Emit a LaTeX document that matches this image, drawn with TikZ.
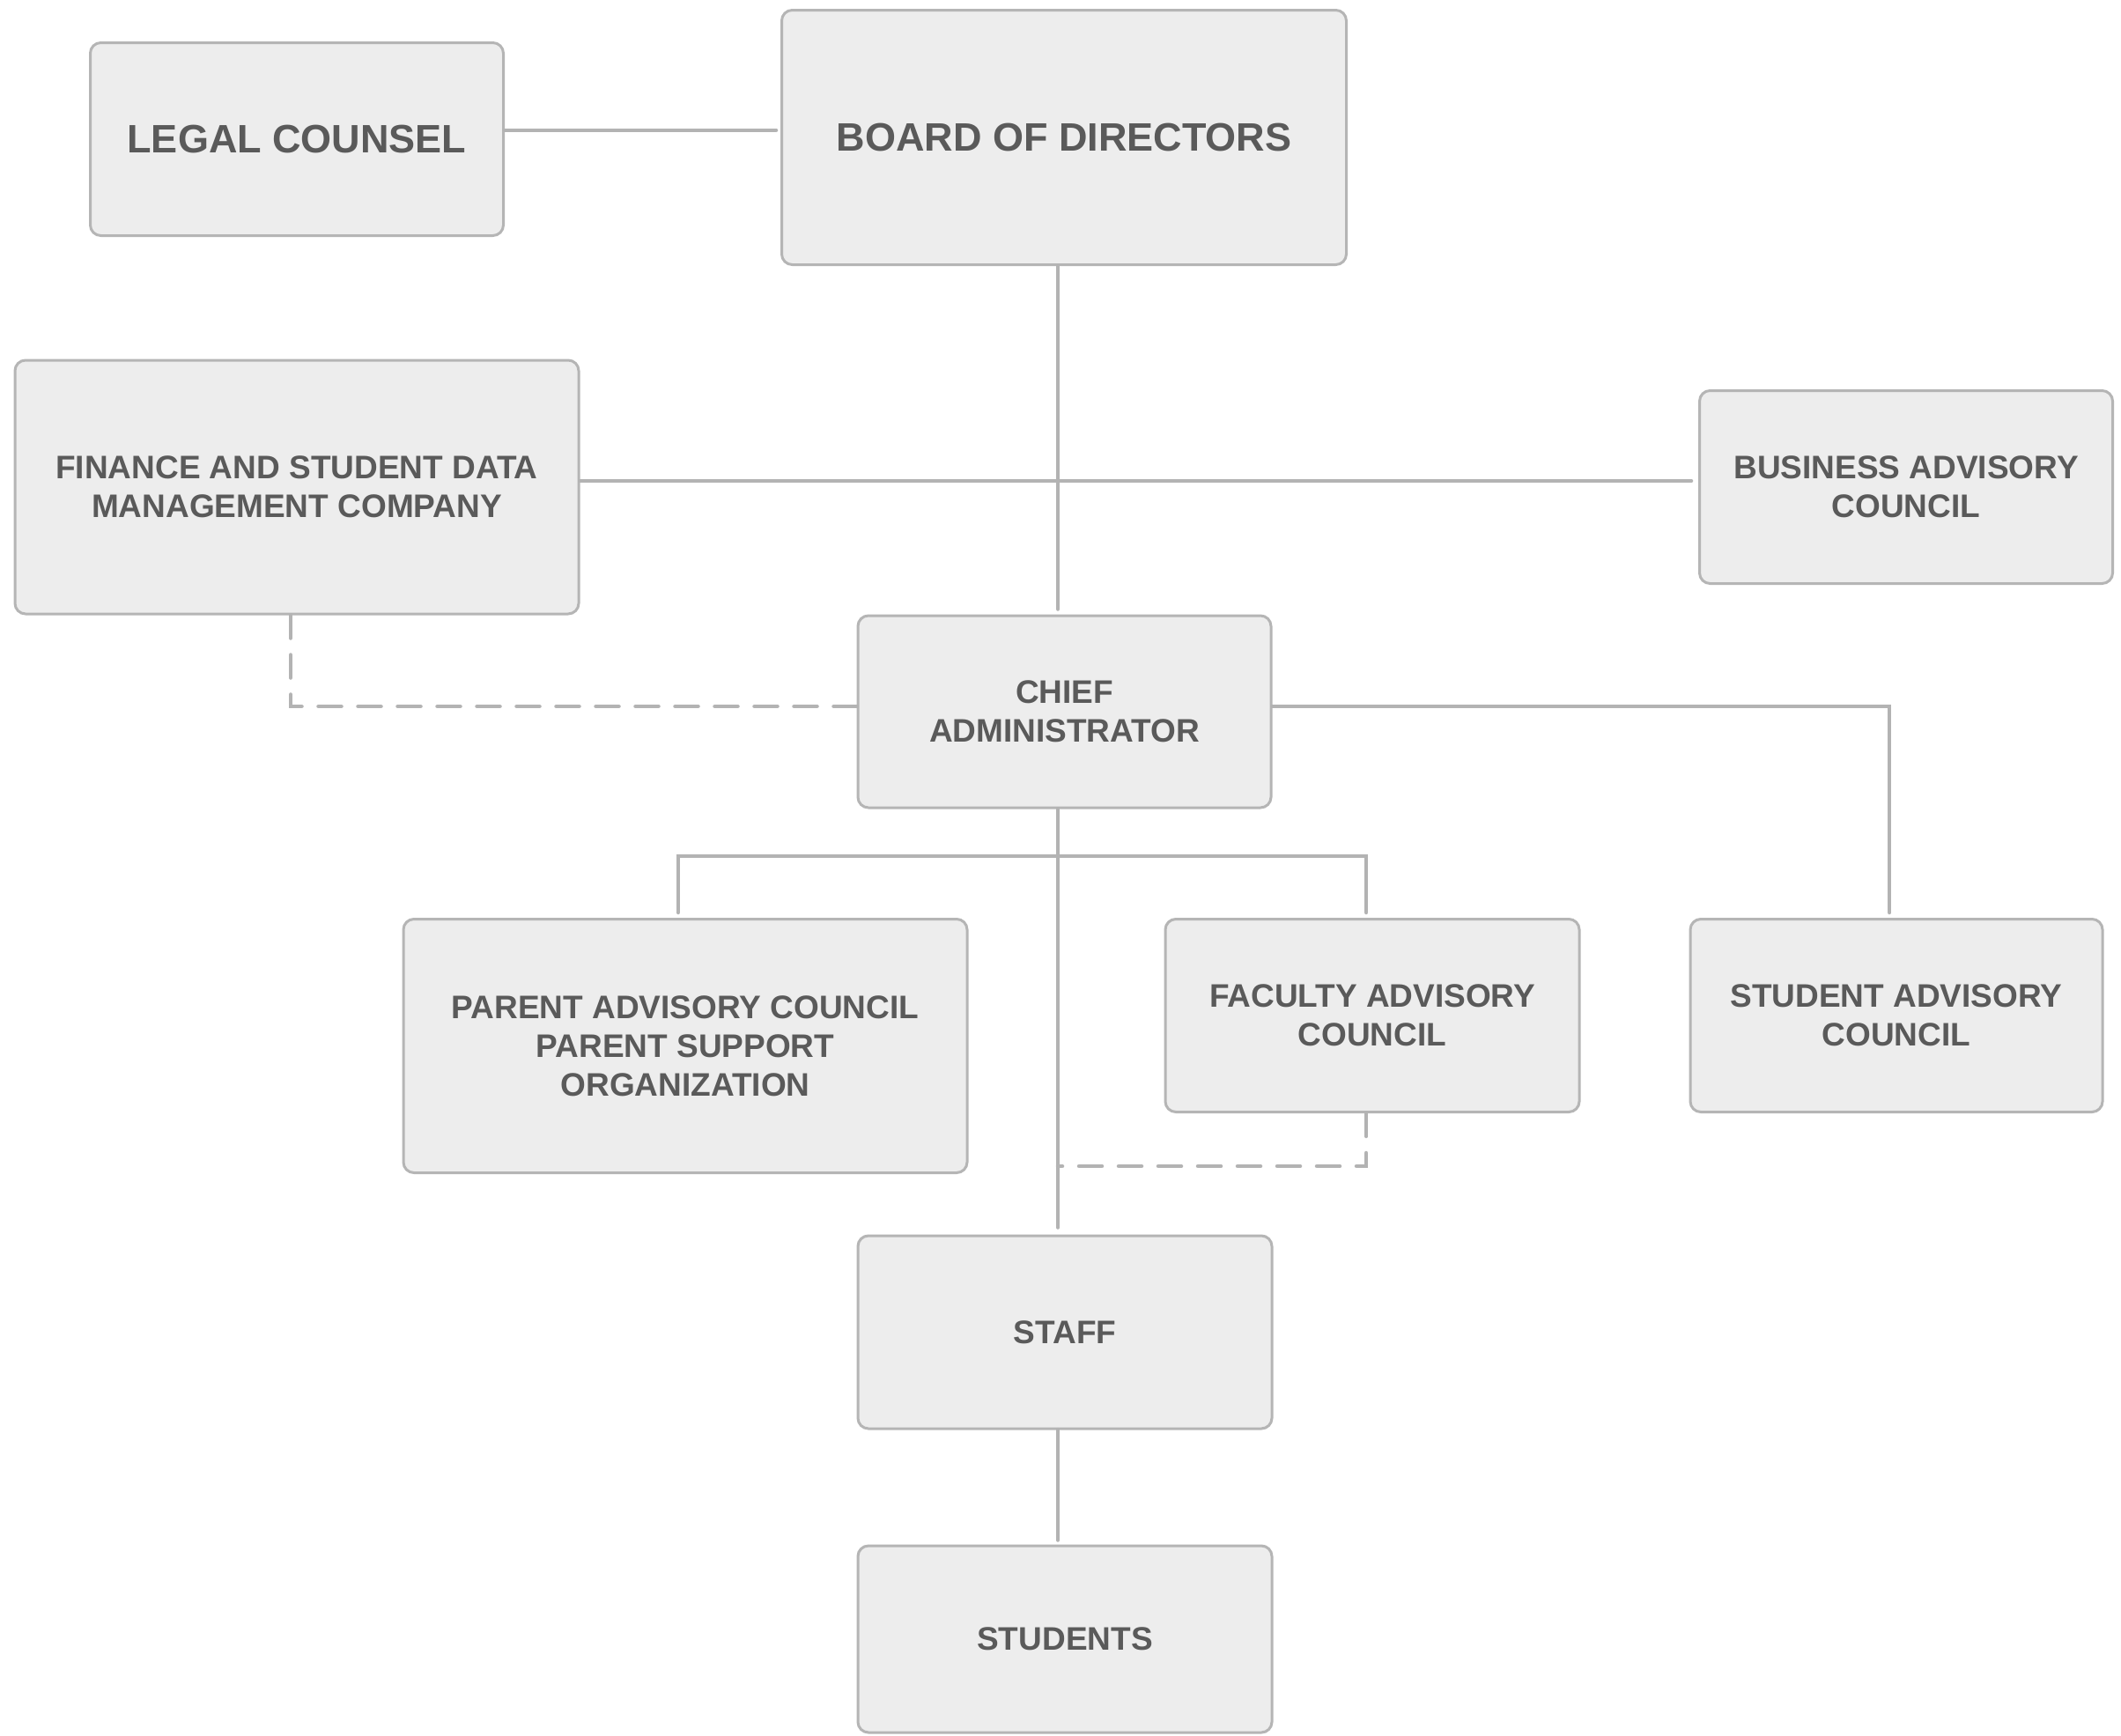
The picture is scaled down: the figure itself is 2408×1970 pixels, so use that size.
\documentclass[tikz,border=0pt]{standalone}
\usepackage{fontspec}
\newfontfamily\lblfont{Liberation Sans Bold}
\definecolor{boxfill}{HTML}{EDEDED}
\definecolor{boxline}{HTML}{B5B5B5}
\definecolor{wire}{HTML}{B3B3B3}
\definecolor{txt}{HTML}{5A5A5A}
\begin{document}
\begin{tikzpicture}[x=1pt,y=-1pt,
  orgbox/.style={draw=boxline, fill=boxfill, line width=3pt, rounded corners=12pt,
    align=center, text=txt, inner sep=0pt, font=\lblfont\fontsize{37}{44}\selectfont},
  bigbox/.style={orgbox, font=\lblfont\fontsize{45}{54}\selectfont},
  wireline/.style={draw=wire, line width=4.5pt, line cap=round},
  dashline/.style={wireline, dash pattern=on 26pt off 19pt}]
\useasboundingbox[fill=white] (0,0) rectangle (2408,1970);

\node[bigbox, minimum width=469pt, minimum height=219pt] (legal) at (337,158) {LEGAL COUNSEL};
\node[bigbox, minimum width=641pt, minimum height=289pt] (board) at (1208,156) {BOARD OF DIRECTORS};
\node[orgbox, minimum width=640pt, minimum height=288pt] (finance) at (337,553) {FINANCE AND STUDENT DATA\\MANAGEMENT COMPANY};
\node[orgbox, minimum width=469pt, minimum height=219pt] (business) at (2164,553) {BUSINESS ADVISORY\\COUNCIL};
\node[orgbox, minimum width=469pt, minimum height=218pt] (chief) at (1208.5,808) {CHIEF\\ADMINISTRATOR};
\node[orgbox, minimum width=640pt, minimum height=288pt] (parent) at (778,1187.5) {PARENT ADVISORY COUNCIL\\PARENT SUPPORT\\ORGANIZATION};
\node[orgbox, minimum width=470pt, minimum height=219pt] (faculty) at (1558,1153) {FACULTY ADVISORY\\COUNCIL};
\node[orgbox, minimum width=468pt, minimum height=219pt] (studadv) at (2153,1153) {STUDENT ADVISORY\\COUNCIL};
\node[orgbox, minimum width=470pt, minimum height=219pt] (staff) at (1209,1512.5) {STAFF};
\node[orgbox, minimum width=470pt, minimum height=212pt] (students) at (1209,1861) {STUDENTS};

\coordinate (spine) at (1201,0);
\coordinate (legalrow) at (0,148);
\coordinate (finrow) at (0,546);
\coordinate (chiefrow) at (0,802);
\coordinate (branch) at (0,972);
\coordinate (facdash) at (0,1324);
\coordinate (finx) at (330,0);
\coordinate (parx) at (770,0);
\coordinate (facx) at (1551,0);
\coordinate (sadx) at (2145,0);

% solid connectors
\draw[wireline, shorten >=5pt] (legal.east |- legalrow) -- (board.west |- legalrow);
\draw[wireline, shorten >=6pt] (board.south -| spine) -- (chief.north -| spine);
\draw[wireline, shorten >=8pt] (finance.east |- finrow) -- (business.west |- finrow);
\draw[wireline, shorten >=6pt] (chief.east |- chiefrow) -| (studadv.north -| sadx);
\draw[wireline, shorten >=8pt] (chief.south -| spine) -- (staff.north -| spine);
\draw[wireline, shorten >=6pt] (branch -| spine) -| (parent.north -| parx);
\draw[wireline, shorten >=6pt] (branch -| spine) -| (faculty.north -| facx);
\draw[wireline, shorten >=5pt] (staff.south -| spine) -- (students.north -| spine);

% dashed connectors
\draw[dashline] (finance.south -| finx) |- (chief.west |- chiefrow);
\draw[dashline] (faculty.south -| facx) |- (facdash -| spine);
\end{tikzpicture}
\end{document}
